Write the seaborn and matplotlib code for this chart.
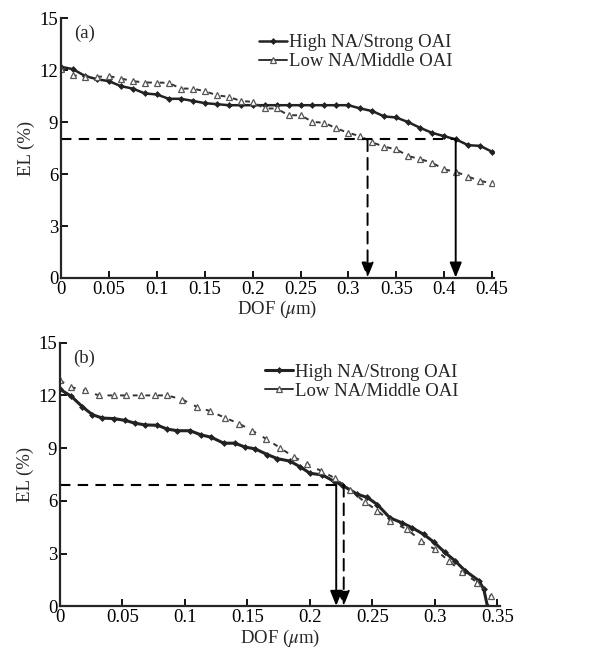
import numpy as np
import pandas as pd
import seaborn as sns
import matplotlib
matplotlib.use("Agg")
import matplotlib.pyplot as plt

# ---------------- data ----------------
# Panel (a)
dof_a = [0, 0.0125, 0.025, 0.0375, 0.05, 0.0625, 0.075, 0.0875, 0.1, 0.1125, 0.125,
         0.1375, 0.15, 0.1625, 0.175, 0.1875, 0.2, 0.2125, 0.225, 0.2375, 0.25, 0.2625,
         0.275, 0.2875, 0.3, 0.3125, 0.325, 0.3375, 0.35, 0.3625, 0.375, 0.3875, 0.4,
         0.4125, 0.425, 0.4375, 0.45]
el_high_a = [12.2, 12.06, 11.67, 11.48, 11.37, 11.08, 10.94, 10.66, 10.6, 10.35, 10.35,
             10.23, 10.1, 10.04, 9.98, 9.98, 9.98, 9.98, 9.98, 9.98, 9.98, 9.98,
             9.98, 9.98, 9.98, 9.79, 9.64, 9.33, 9.27, 9.0, 8.67, 8.38, 8.19,
             8.0, 7.67, 7.63, 7.29]
el_low_a = [12.1, 11.71, 11.62, 11.62, 11.66, 11.52, 11.37, 11.29, 11.29, 11.27, 10.94,
            10.94, 10.79, 10.56, 10.46, 10.23, 10.17, 9.79, 9.79, 9.4, 9.4, 9.02,
            8.96, 8.64, 8.38, 8.19, 7.83, 7.58, 7.43, 7.04, 6.87, 6.65, 6.27,
            6.13, 5.85, 5.61, 5.46]
el_level_a = 8.0
dof_cuts_a = [0.32, 0.412]   # dashed (low NA), solid (high NA)

# Panel (b)
dof_high_b = [0, 0.009, 0.018, 0.026, 0.034, 0.043, 0.052, 0.06, 0.068, 0.078, 0.086,
              0.094, 0.104, 0.113, 0.121, 0.131, 0.14, 0.148, 0.156, 0.166, 0.174,
              0.184, 0.192, 0.2, 0.21, 0.219, 0.226, 0.238, 0.246, 0.254, 0.264,
              0.274, 0.282, 0.291, 0.299, 0.308, 0.316, 0.324, 0.335, 0.339, 0.342]
el_high_b = [12.35, 11.95, 11.35, 10.9, 10.71, 10.68, 10.58, 10.42, 10.32, 10.3, 10.08,
             9.99, 9.99, 9.75, 9.62, 9.28, 9.28, 9.06, 8.96, 8.63, 8.4,
             8.26, 7.94, 7.57, 7.47, 7.12, 6.88, 6.37, 6.19, 5.78, 5.03,
             4.74, 4.46, 4.09, 3.66, 3.06, 2.59, 2.03, 1.46, 0.99, 0.0]
dof_low_b = [0, 0.009, 0.02, 0.031, 0.043, 0.053, 0.065, 0.076, 0.086, 0.098, 0.11,
             0.12, 0.132, 0.143, 0.154, 0.165, 0.176, 0.187, 0.198, 0.209, 0.22,
             0.232, 0.244, 0.254, 0.264, 0.278, 0.289, 0.3, 0.311, 0.322, 0.334, 0.345]
el_low_b = [12.85, 12.47, 12.28, 12.0, 12.0, 12.0, 12.0, 12.0, 12.0, 11.76, 11.33,
            11.11, 10.73, 10.4, 9.99, 9.52, 9.02, 8.5, 8.09, 7.7, 7.29,
            6.6, 5.93, 5.44, 4.84, 4.37, 3.71, 3.24, 2.59, 1.93, 1.35, 0.56]
el_level_b = 6.9
dof_cuts_b = [0.221, 0.227]  # solid (high NA), dashed (low NA)

label_high = "High NA/Strong OAI"
label_low = "Low NA/Middle OAI"
xticks_a = [0, 0.05, 0.1, 0.15, 0.2, 0.25, 0.3, 0.35, 0.4, 0.45]
xticks_b = [0, 0.05, 0.1, 0.15, 0.2, 0.25, 0.3, 0.35]
yticks = [0, 3, 6, 9, 12, 15]

# ---------------- style ----------------
sns.set_theme(style="ticks")
plt.rcParams["font.family"] = ["Liberation Serif", "DejaVu Serif"]
plt.rcParams["mathtext.fontset"] = "stix"
plt.rcParams["axes.linewidth"] = 1.6
plt.rcParams["xtick.direction"] = "in"
plt.rcParams["ytick.direction"] = "in"

FS = 13.5

fig = plt.figure(figsize=(6.06, 6.54), dpi=100)
ax_a = fig.add_axes([0.1007, 0.575, 0.7145, 0.397])
ax_b = fig.add_axes([0.099, 0.073, 0.726, 0.403])

def fmt(v):
    return "%g" % v

def draw(ax, xh, yh, xl, yl, level, cuts, styles, xticks, xmax, tag, lw_high, leg_y):
    sns.lineplot(x=xh, y=yh, ax=ax, color="#222222", lw=lw_high, marker="D",
                 markersize=3.0, markeredgewidth=0.5, markeredgecolor="#222222",
                 label=label_high, sort=False, estimator=None)
    sns.lineplot(x=xl, y=yl, ax=ax, color="#333333", lw=1.4, linestyle=(0, (2.5, 4.0)),
                 marker="^", markersize=4.6, markerfacecolor="white",
                 markeredgecolor="#555555", markeredgewidth=0.9,
                 label=label_low, sort=False, estimator=None)
    # horizontal reference line
    ax.plot([0, max(cuts)], [level, level], color="black", lw=1.5,
            linestyle=(0, (5, 3.5)))
    for c, st in zip(cuts, styles):
        ls = "-" if st == "solid" else (0, (6, 3.5))
        ax.annotate("", xy=(c, 0.02), xytext=(c, level),
                    arrowprops=dict(arrowstyle="-|>,head_length=0.75,head_width=0.3",
                                    color="black", lw=1.4, linestyle=ls,
                                    shrinkA=0, shrinkB=0))
    ax.set_xlim(0, xmax)
    ax.set_ylim(0, 15)
    ax.set_xticks(xticks)
    ax.set_xticklabels([fmt(v) for v in xticks])
    ax.set_yticks(yticks)
    ax.tick_params(axis="both", labelsize=FS, length=5, width=1.3, pad=2,
                   colors="black")
    ax.set_xlabel(r"DOF ($\mu$m)", fontsize=FS, labelpad=1)
    ax.set_ylabel("EL (%)", fontsize=FS, labelpad=3)
    sns.despine(ax=ax)
    ax.text(0.03, 0.975, tag, transform=ax.transAxes, fontsize=FS,
            ha="left", va="top")
    leg = ax.legend(loc="upper right", bbox_to_anchor=(0.935, leg_y), frameon=False,
                    fontsize=FS, handlelength=1.5, handletextpad=0.1,
                    labelspacing=0.1, borderpad=0.2)
    for line in leg.get_lines():
        line.set_linestyle("-")

draw(ax_a, dof_a, el_high_a, dof_a, el_low_a, el_level_a, dof_cuts_a,
     ["dashed", "solid"], xticks_a, 0.452, "(a)", 1.8, 0.99)
draw(ax_b, dof_high_b, el_high_b, dof_low_b, el_low_b, el_level_b, dof_cuts_b,
     ["solid", "dashed"], xticks_b, 0.352, "(b)", 2.2, 0.97)

fig.savefig("out.png", dpi=100)
